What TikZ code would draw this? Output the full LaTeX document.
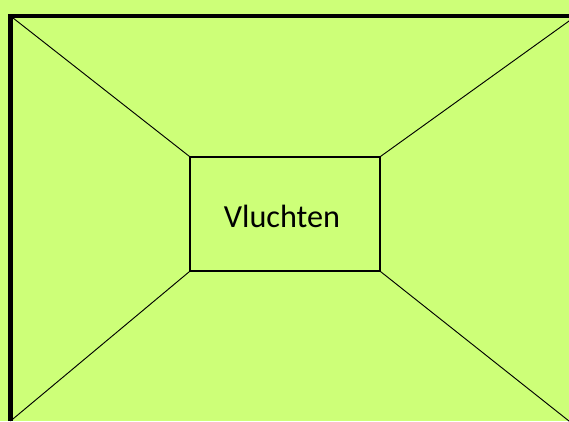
\documentclass[tikz,border=0pt]{standalone}
\usepackage{fontspec}
\setmainfont{Carlito}
\definecolor{zaal}{RGB}{205,255,120}

\begin{document}
\begin{tikzpicture}[x=0.03cm,y=-0.03cm,
        frame/.style={draw,line width=3.8pt},
        main node/.style={draw,line width=1.1pt,minimum width=5.7cm,minimum height=3.42cm,font=\fontsize{27.5}{31}\selectfont}]
            \useasboundingbox (0,0) rectangle (569,421);
            \clip (0,0) rectangle (569,421);
            \fill[zaal] (0,0) rectangle (569,421);
            \coordinate (tl) at (10.5,16);
            \coordinate (tr) at (576,16);
            \coordinate (bl) at (10.5,421);
            \coordinate (br) at (574,425);
            \draw[frame] (bl) -- (tl) -- (tr);
            \node[main node] (vl) at (285,214) {};
            \node (vltext) at (282,216) {\fontsize{27.5}{31}\selectfont Vluchten};
            \path[draw,line width=0.8pt]
            (tl) edge (vl.north west)
            (tr) edge (vl.north east)
            (bl) edge (vl.south west)
            (br) edge (vl.south east)
            ;
        \end{tikzpicture}
\end{document}
